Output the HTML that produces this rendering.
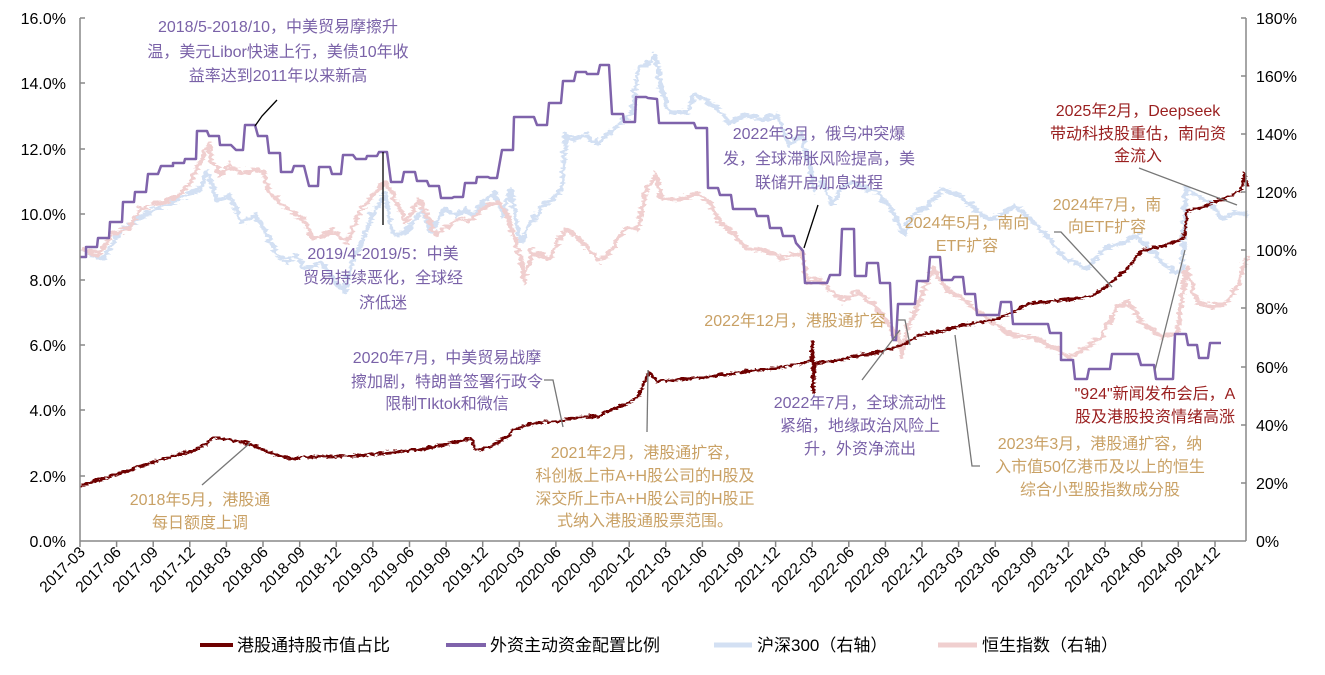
<!DOCTYPE html>
<html><head><meta charset="utf-8">
<style>
html,body{margin:0;padding:0;background:#fff;}
svg{display:block;font-family:"Liberation Sans","Noto Sans CJK SC",sans-serif;}
.t{font-size:16px;}
.pu{fill:#7A62A8;} .go{fill:#C9A165;} .dr{fill:#9A1F1F;}
.ax{font-size:16px;fill:#000;}
.xl{font-size:15.5px;fill:#000;}
.lg{font-size:17px;fill:#000;}
</style></head><body>
<svg width="1325" height="675" viewBox="0 0 1325 675" xmlns="http://www.w3.org/2000/svg">
<defs>
<filter id="jw" filterUnits="userSpaceOnUse" x="0" y="0" width="1325" height="675">
<feTurbulence type="turbulence" baseFrequency="0.08 0.2" numOctaves="2" seed="3" result="n"/>
<feDisplacementMap in="SourceGraphic" in2="n" scale="8" xChannelSelector="R" yChannelSelector="G"/>
</filter>
<filter id="jr" filterUnits="userSpaceOnUse" x="0" y="0" width="1325" height="675">
<feTurbulence type="turbulence" baseFrequency="0.12 0.3" numOctaves="2" seed="7" result="n"/>
<feDisplacementMap in="SourceGraphic" in2="n" scale="5" xChannelSelector="R" yChannelSelector="G"/>
</filter>
</defs>
<g fill="none" stroke-linejoin="round">
<path filter="url(#jw)" stroke="#D3E0F3" stroke-width="4.2" d="M80,247L101,257L118,230L143,213L177,197L198,187L206,170L215,200L227,193L240,220L253,213L265,233L278,257L286,260L295,253L303,267L320,260L332,280L343,290L349,263L362,233L370,213L383,193L391,233L404,230L421,207L429,230L442,207L455,213L463,207L471,213L484,197L492,190L501,213L509,187L518,240L526,227L539,207L547,200L560,187L564,133L572,137L585,133L593,143L606,133L619,120L631,110L636,67L648,60L654,53L660,90L668,110L685,110L694,93L707,100L719,110L728,120L745,113L762,117L775,113L787,143L800,133L813,190L821,180L830,203L838,187L851,180L864,187L876,190L889,207L902,233L910,213L923,207L940,187L957,193L974,207L987,217L999,213L1012,203L1025,213L1033,223L1046,233L1059,253L1071,260L1084,267L1097,253L1110,243L1122,240L1135,233L1148,247L1160,260L1173,270L1180,270L1184,187L1194,193L1207,200L1220,217L1233,210L1245,213"/>
<path filter="url(#jw)" stroke="#F0CFCF" stroke-width="4.2" d="M80,247L97,253L109,233L126,227L139,207L160,200L177,193L189,180L202,150L207,143L210,160L219,173L227,163L240,173L253,167L261,170L269,193L286,207L303,220L311,237L328,230L337,233L345,240L358,210L370,193L383,180L391,193L404,220L417,197L425,213L434,233L442,227L455,217L467,220L484,203L497,200L505,213L518,253L522,280L530,250L547,257L564,227L581,240L598,260L610,247L623,227L636,227L644,187L654,173L660,197L677,197L694,192L707,200L715,217L732,233L745,247L762,247L779,257L800,250L806,280L817,277L830,290L842,300L855,290L868,300L881,313L893,333L895,330L900,355L905,325L915,305L931,267L944,287L957,293L974,307L990,320L1010,333L1030,335L1050,345L1068,355L1085,345L1100,335L1115,305L1125,300L1140,320L1160,335L1175,330L1185,265L1195,300L1210,305L1225,300L1235,285L1245,255"/>
<path filter="url(#jr)" stroke="#6E0000" stroke-width="2.8" d="M80,484L100,478L130,468L160,458L190,450L205,443L211,436L218,437L235,440L250,443L270,452L290,457L320,455L350,455L380,452L420,448L450,442L470,437L474,449L490,445L505,436L513,428L535,421L560,420L575,416L597,415L610,408L625,403L637,395L645,376L648,370L655,380L680,378L700,376L718,374L745,370L773,367L800,362L810,358L811,340L812,392L813,362L830,360L855,355L883,350L900,344L921,333L940,330L958,325L995,318L1030,302L1068,298L1090,295L1105,285L1125,268L1140,250L1160,245L1175,240L1183,236L1186,210L1195,208L1215,200L1230,195L1240,188L1243,172L1246,185"/>
<path stroke="#7F63AB" stroke-width="2.5" d="M80,257L86,257L86,247L97,247L98,238L109,238L110,222L122,222L123,202L134,202L135,192L146,192L148,174L158,174L161,166L173,166L173,163L184,163L185,159L196,159L197,131L207,131L209,136L219,136L220,145L231,145L236,150L243,150L245,125L255,125L258,136L267,136L269,153L280,153L281,172L292,172L294,166L304,166L309,186L318,186L319,167L330,167L332,174L341,174L343,155L353,155L356,159L366,159L367,156L377,156L379,152L387,152L391,182L402,182L404,172L415,172L417,181L427,181L429,186L439,186L441,198L452,198L454,197L463,197L465,183L476,183L477,177L488,177L490,178L497,178L502,150L513,150L514,117L534,117L537,125L547,125L549,103L561,103L563,81L574,81L576,72L586,72L587,74L598,74L600,65L609,65L612,114L623,114L624,122L635,122L636,97L646,97L648,98L657,99L659,123L694,123L696,128L707,128L708,188L718,188L720,195L731,195L733,209L755,209L757,216L768,216L770,228L781,228L783,236L794,236L796,243L803,251L805,283L827,283L830,275L840,275L842,229L854,229L855,276L866,276L867,263L878,263L880,283L890,283L892,333L893,340L896,340L898,304L915,304L917,281L928,281L930,257L940,257L942,280L952,280L954,277L963,277L965,294L975,294L977,315L999,315L1001,302L1011,302L1013,324L1048,324L1050,333L1061,333L1061,360L1073,360L1075,379L1087,379L1089,369L1110,369L1112,354L1138,354L1141,365L1154,365L1156,379L1173,379L1175,334L1186,334L1188,345L1197,345L1199,358L1208,358L1210,343L1221,343"/>
</g>
<!-- axes -->
<g stroke="#888" stroke-width="1.5" fill="none">
<line x1="80" y1="18" x2="80" y2="541"/>
<line x1="1246" y1="18" x2="1246" y2="541"/>
<line x1="80" y1="541" x2="1246" y2="541"/>
<line x1="80" y1="18" x2="85" y2="18"/><line x1="80" y1="83" x2="85" y2="83"/><line x1="80" y1="149" x2="85" y2="149"/><line x1="80" y1="214" x2="85" y2="214"/><line x1="80" y1="280" x2="85" y2="280"/><line x1="80" y1="345" x2="85" y2="345"/><line x1="80" y1="410" x2="85" y2="410"/><line x1="80" y1="476" x2="85" y2="476"/>
<line x1="1241" y1="18" x2="1246" y2="18"/><line x1="1241" y1="76" x2="1246" y2="76"/><line x1="1241" y1="134" x2="1246" y2="134"/><line x1="1241" y1="192" x2="1246" y2="192"/><line x1="1241" y1="250" x2="1246" y2="250"/><line x1="1241" y1="308" x2="1246" y2="308"/><line x1="1241" y1="367" x2="1246" y2="367"/><line x1="1241" y1="425" x2="1246" y2="425"/><line x1="1241" y1="483" x2="1246" y2="483"/>
<path d="M80,541v6M116.6,541v6M153.2,541v6M189.8,541v6M226.4,541v6M263,541v6M299.7,541v6M336.3,541v6M372.9,541v6M409.5,541v6M446.1,541v6M482.7,541v6M519.3,541v6M555.9,541v6M592.5,541v6M629.2,541v6M665.8,541v6M702.4,541v6M739,541v6M775.6,541v6M812.2,541v6M848.8,541v6M885.4,541v6M922,541v6M958.6,541v6M995.3,541v6M1031.9,541v6M1068.5,541v6M1105.1,541v6M1141.7,541v6M1178.3,541v6M1215,541v6"/>
</g>
<g class="ax" text-anchor="end">
<text x="66" y="24">16.0%</text><text x="66" y="89">14.0%</text><text x="66" y="155">12.0%</text><text x="66" y="220">10.0%</text><text x="66" y="286">8.0%</text><text x="66" y="351">6.0%</text><text x="66" y="416">4.0%</text><text x="66" y="482">2.0%</text><text x="66" y="547">0.0%</text>
</g>
<g class="ax" text-anchor="start">
<text x="1256" y="24">180%</text><text x="1256" y="82">160%</text><text x="1256" y="140">140%</text><text x="1256" y="198">120%</text><text x="1256" y="256">100%</text><text x="1256" y="314">80%</text><text x="1256" y="373">60%</text><text x="1256" y="431">40%</text><text x="1256" y="489">20%</text><text x="1256" y="547">0%</text>
</g>
<g class="xl" text-anchor="end">
<text transform="translate(86,553) rotate(-45)">2017-03</text>
<text transform="translate(122,553) rotate(-45)">2017-06</text>
<text transform="translate(159,553) rotate(-45)">2017-09</text>
<text transform="translate(196,553) rotate(-45)">2017-12</text>
<text transform="translate(232,553) rotate(-45)">2018-03</text>
<text transform="translate(269,553) rotate(-45)">2018-06</text>
<text transform="translate(306,553) rotate(-45)">2018-09</text>
<text transform="translate(342,553) rotate(-45)">2018-12</text>
<text transform="translate(379,553) rotate(-45)">2019-03</text>
<text transform="translate(415,553) rotate(-45)">2019-06</text>
<text transform="translate(452,553) rotate(-45)">2019-09</text>
<text transform="translate(489,553) rotate(-45)">2019-12</text>
<text transform="translate(525,553) rotate(-45)">2020-03</text>
<text transform="translate(562,553) rotate(-45)">2020-06</text>
<text transform="translate(598,553) rotate(-45)">2020-09</text>
<text transform="translate(635,553) rotate(-45)">2020-12</text>
<text transform="translate(672,553) rotate(-45)">2021-03</text>
<text transform="translate(708,553) rotate(-45)">2021-06</text>
<text transform="translate(745,553) rotate(-45)">2021-09</text>
<text transform="translate(781,553) rotate(-45)">2021-12</text>
<text transform="translate(818,553) rotate(-45)">2022-03</text>
<text transform="translate(855,553) rotate(-45)">2022-06</text>
<text transform="translate(891,553) rotate(-45)">2022-09</text>
<text transform="translate(928,553) rotate(-45)">2022-12</text>
<text transform="translate(964,553) rotate(-45)">2023-03</text>
<text transform="translate(1001,553) rotate(-45)">2023-06</text>
<text transform="translate(1038,553) rotate(-45)">2023-09</text>
<text transform="translate(1074,553) rotate(-45)">2023-12</text>
<text transform="translate(1111,553) rotate(-45)">2024-03</text>
<text transform="translate(1147,553) rotate(-45)">2024-06</text>
<text transform="translate(1184,553) rotate(-45)">2024-09</text>
<text transform="translate(1221,553) rotate(-45)">2024-12</text>
</g>
<!-- leader lines -->
<g fill="none" stroke-width="1.3">
<polyline stroke="#000" points="255,126 262,116 277,100"/>
<line stroke="#000" x1="383" y1="152" x2="383" y2="225"/>
<line stroke="#000" x1="804" y1="248" x2="818" y2="205"/>
<line stroke="#777" x1="1139" y1="168" x2="1237" y2="205"/>
<polyline stroke="#777" points="1054,232 1061,232 1112,287"/>
<polyline stroke="#777" points="898,320 905,320 910,345"/>
<polyline stroke="#777" points="544,380 553,380 563,427"/>
<line stroke="#777" x1="862" y1="380" x2="900" y2="330"/>
<line stroke="#777" x1="202" y1="485" x2="250" y2="443"/>
<line stroke="#777" x1="647" y1="432" x2="648" y2="370"/>
<polyline stroke="#777" points="980,466 972,466 955,335"/>
<line stroke="#777" x1="1155" y1="370" x2="1185" y2="250"/>
</g>
<!-- annotations -->
<g class="t" text-anchor="middle">
<g class="pu">
<text x="278" y="32">2018/5-2018/10，中美贸易摩擦升</text>
<text x="278" y="57">温，美元Libor快速上行，美债10年收</text>
<text x="278" y="81">益率达到2011年以来新高</text>
<text x="383" y="259">2019/4-2019/5：中美</text>
<text x="383" y="283">贸易持续恶化，全球经</text>
<text x="383" y="308">济低迷</text>
<text x="819" y="139">2022年3月，俄乌冲突爆</text>
<text x="819" y="164">发，全球滞胀风险提高，美</text>
<text x="819" y="188">联储开启加息进程</text>
<text x="447" y="363">2020年7月，中美贸易战摩</text>
<text x="447" y="387">擦加剧，特朗普签署行政令</text>
<text x="447" y="409">限制TIktok和微信</text>
<text x="860" y="408">2022年7月，全球流动性</text>
<text x="860" y="431">紧缩，地缘政治风险上</text>
<text x="860" y="454">升，外资净流出</text>
</g>
<g class="dr">
<text x="1138" y="116">2025年2月，Deepseek</text>
<text x="1138" y="139">带动科技股重估，南向资</text>
<text x="1138" y="161">金流入</text>
<text x="1155" y="399">"924"新闻发布会后，A</text>
<text x="1155" y="422">股及港股投资情绪高涨</text>
</g>
<g class="go">
<text x="967" y="228">2024年5月，南向</text>
<text x="967" y="251">ETF扩容</text>
<text x="1107" y="210">2024年7月，南</text>
<text x="1107" y="232">向ETF扩容</text>
<text x="795" y="326">2022年12月，港股通扩容</text>
<text x="200" y="505">2018年5月，港股通</text>
<text x="200" y="528">每日额度上调</text>
<text x="645" y="458">2021年2月，港股通扩容，</text>
<text x="645" y="481">科创板上市A+H股公司的H股及</text>
<text x="645" y="504">深交所上市A+H股公司的H股正</text>
<text x="645" y="526">式纳入港股通股票范围。</text>
<text x="1100" y="449">2023年3月，港股通扩容，纳</text>
<text x="1100" y="472">入市值50亿港币及以上的恒生</text>
<text x="1100" y="495">综合小型股指数成分股</text>
</g>
</g>
<!-- legend -->
<g>
<line x1="200" y1="645" x2="233" y2="645" stroke="#6E0000" stroke-width="4"/>
<text class="lg" x="237" y="651">港股通持股市值占比</text>
<line x1="446" y1="645" x2="486" y2="645" stroke="#7F63AB" stroke-width="4"/>
<text class="lg" x="490" y="651">外资主动资金配置比例</text>
<line x1="714" y1="645" x2="752" y2="645" stroke="#D3E0F3" stroke-width="5"/>
<text class="lg" x="757" y="651">沪深300（右轴）</text>
<line x1="938" y1="645" x2="977" y2="645" stroke="#F0CFCF" stroke-width="5"/>
<text class="lg" x="982" y="651">恒生指数（右轴）</text>
</g>
</svg>
</body></html>
